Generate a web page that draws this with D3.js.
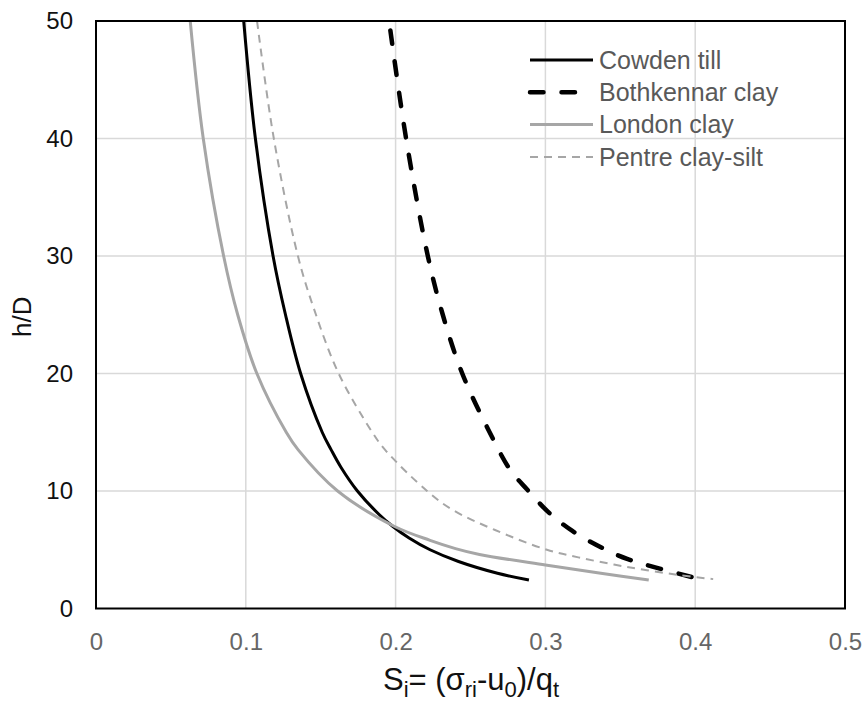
<!DOCTYPE html>
<html>
<head>
<meta charset="utf-8">
<script src="https://cdn.jsdelivr.net/npm/d3@7"></script>
<style>
  body { margin: 0; background: #fff; }
  text { font-family: Arial, "Liberation Sans", sans-serif; }
</style>
</head>
<body>
<svg id="chart" width="867" height="708"></svg>
<script>
const xTicks = [0, 0.1, 0.2, 0.3, 0.4, 0.5];
const yTicks = [0, 10, 20, 30, 40, 50];

// [S_i, h/D]
const cowden = [
  [0.0986, 50], [0.1064, 40], [0.1182, 30], [0.1265, 25], [0.1366, 20],
  [0.151, 15], [0.157, 13.5], [0.1636, 12], [0.1745, 10], [0.189, 8],
  [0.198, 7], [0.209, 6], [0.223, 5], [0.242, 4], [0.268, 3], [0.289, 2.42]];
const bothkennar = [
  [0.1965, 49.2], [0.207, 40], [0.2215, 30], [0.2315, 25], [0.2445, 20],
  [0.262, 15.2], [0.2765, 11.8], [0.288, 10.1], [0.302, 8.2], [0.318, 6.6],
  [0.338, 5.15], [0.355, 4.2], [0.403, 2.5]];
const london = [
  [0.0629, 50], [0.0716, 40], [0.0852, 30], [0.0946, 25], [0.1074, 20],
  [0.127, 15], [0.135, 13.5], [0.1613, 10], [0.199, 7], [0.223, 5.8],
  [0.24, 5.1], [0.256, 4.6], [0.3, 3.7], [0.337, 3.0], [0.369, 2.43]];
const pentre = [
  [0.1075, 50], [0.1187, 40], [0.1348, 30], [0.1455, 25.5], [0.162, 20],
  [0.1844, 15], [0.193, 13.5], [0.221, 10], [0.238, 8.4], [0.266, 6.7],
  [0.301, 5.0], [0.322, 4.35], [0.354, 3.55], [0.389, 2.85], [0.412, 2.5]];

const seriesNames = ['Cowden till', 'Bothkennar clay', 'London clay', 'Pentre clay-silt'];
const seriesData = [cowden, bothkennar, london, pentre];

const styles = [
  { color: '#000', width: 3, dash: null, cap: 'butt' },
  { color: '#000', width: 4.5, dash: '13.5 18', cap: 'round' },
  { color: '#a6a6a6', width: 3, dash: null, cap: 'butt' },
  { color: '#a6a6a6', width: 2, dash: '8 6', cap: 'butt' },
];

const svg = d3.select('#chart');
const m = { left: 96, top: 21, right: 845, bottom: 608.5 };

const x = d3.scaleLinear().domain([0, 0.5]).range([m.left, m.right]);
const y = d3.scaleLinear().domain([0, 50]).range([m.bottom, m.top]);

// grid
svg.append('g')
  .selectAll('line.vgrid')
  .data(xTicks.slice(1, -1))
  .enter()
  .append('line')
  .attr('stroke', '#d9d9d9')
  .attr('stroke-width', 1.5)
  .attr('x1', d => x(d)).attr('x2', d => x(d))
  .attr('y1', m.top).attr('y2', m.bottom);

svg.append('g')
  .selectAll('line.hgrid')
  .data(yTicks.slice(1, -1))
  .enter()
  .append('line')
  .attr('stroke', '#d9d9d9')
  .attr('stroke-width', 1.5)
  .attr('x1', m.left).attr('x2', m.right)
  .attr('y1', d => y(d)).attr('y2', d => y(d));

// tick labels
const xAxis = svg.append('g')
  .attr('transform', `translate(0,${m.bottom})`)
  .call(d3.axisBottom(x).tickValues(xTicks).tickSize(0).tickPadding(24).tickFormat(d => String(d)));
xAxis.select('.domain').remove();
xAxis.selectAll('text')
  .attr('font-size', 24)
  .attr('font-family', 'Arial, "Liberation Sans", sans-serif')
  .attr('fill', '#666');

const yAxis = svg.append('g')
  .attr('transform', `translate(${m.left},0)`)
  .call(d3.axisLeft(y).tickValues(yTicks).tickSize(0).tickPadding(23));
yAxis.select('.domain').remove();
yAxis.selectAll('text')
  .attr('font-size', 24)
  .attr('font-family', 'Arial, "Liberation Sans", sans-serif')
  .attr('fill', '#111');

// curves
const line = d3.line()
  .x(d => x(d[0]))
  .y(d => y(d[1]))
  .curve(d3.curveCatmullRom.alpha(0.5));

svg.selectAll('path.series')
  .data(seriesData)
  .enter()
  .append('path')
  .attr('class', 'series')
  .attr('fill', 'none')
  .attr('d', line)
  .attr('stroke', (d, i) => styles[i].color)
  .attr('stroke-width', (d, i) => styles[i].width)
  .attr('stroke-dasharray', (d, i) => styles[i].dash)
  .attr('stroke-linecap', (d, i) => styles[i].cap);

// plot border
svg.append('rect')
  .attr('x', m.left)
  .attr('y', m.top)
  .attr('width', m.right - m.left)
  .attr('height', m.bottom - m.top)
  .attr('fill', 'none')
  .attr('stroke', '#000')
  .attr('stroke-width', 2);

// legend
const lg = svg.append('g');
const rows = lg.selectAll('g.row')
  .data(seriesNames)
  .enter()
  .append('g')
  .attr('transform', (d, i) => `translate(530,${60 + i * 32.3})`);

rows.append('line')
  .attr('x1', 0).attr('x2', 63)
  .attr('y1', 0).attr('y2', 0)
  .attr('stroke', (d, i) => styles[i].color)
  .attr('stroke-width', (d, i) => styles[i].width)
  .attr('stroke-dasharray', (d, i) => styles[i].dash)
  .attr('stroke-linecap', (d, i) => styles[i].cap);

rows.append('text')
  .attr('x', 69)
  .attr('dy', '0.35em')
  .attr('font-size', 25)
  .attr('fill', '#595959')
  .text(d => d);

// axis titles
svg.append('text')
  .attr('transform', `translate(31,${(m.top + m.bottom) / 2 + 2}) rotate(-90)`)
  .attr('text-anchor', 'middle')
  .attr('font-size', 26)
  .attr('fill', '#111')
  .text('h/D');

const xt = svg.append('text')
  .attr('x', 471)
  .attr('y', 690)
  .attr('text-anchor', 'middle')
  .attr('font-size', 31)
  .attr('fill', '#111');
const sub = (t) => xt.append('tspan').attr('font-size', 22).attr('dy', 7).text(t);
const main = (t) => xt.append('tspan').attr('dy', -7).text(t);
xt.append('tspan').text('S');
sub('i');
main('= (σ');
sub('ri');
main('-u');
sub('0');
main(')/q');
sub('t');
</script>
</body>
</html>
